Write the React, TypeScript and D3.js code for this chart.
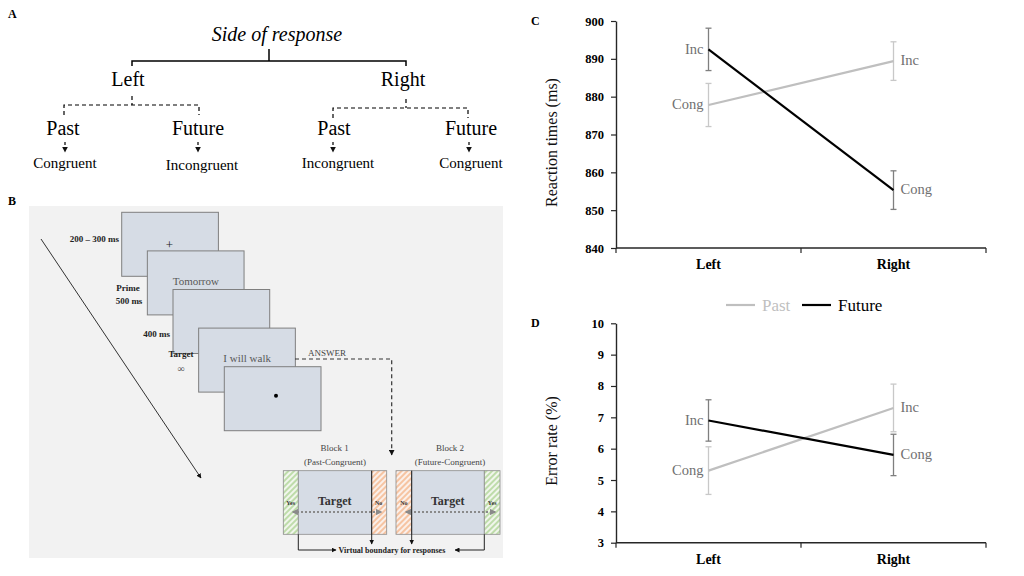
import { useRef, useEffect } from "react";
import * as d3 from "d3";

const serif = "'Liberation Serif', 'Times New Roman', serif";

// Panels C and D data
const sides = ["Left", "Right"];
const seriesNames = ["Past", "Future"];
const rtPast = [877.8, 889.4];
const rtPastErr = [5.7, 5.1];
const rtFuture = [892.5, 855.3];
const rtFutureErr = [5.6, 5.1];
const erPast = [5.3, 7.3];
const erPastErr = [0.76, 0.76];
const erFuture = [6.9, 5.8];
const erFutureErr = [0.66, 0.66];
const pastTags = ["Cong", "Inc"];
const futureTags = ["Inc", "Cong"];
const rtTicks = [840, 850, 860, 870, 880, 890, 900];
const erTicks = [3, 4, 5, 6, 7, 8, 9, 10];

// Panel B screens (sequence of trial events)
const screenTexts = ["+", "Tomorrow", "", "I will walk", "•"];

const PAST_COL = "#bfbfbf";
const FUT_COL = "#000000";

interface PanelProps {
  letter: string;
  top: number;
  bottom: number;
  ticks: number[];
  yLabel: string;
  past: number[];
  pastErr: number[];
  future: number[];
  futureErr: number[];
  legend?: boolean;
}

const LinePanel = ({ letter, top, bottom, ticks, yLabel, past, pastErr, future, futureErr, legend }: PanelProps) => {
  const ref = useRef<SVGGElement>(null);

  useEffect(() => {
    const g = d3.select(ref.current);
    g.selectAll("*").remove();

    const left = 616;
    const right = 986;
    const y = d3.scaleLinear().domain(d3.extent(ticks) as [number, number]).range([bottom, top]);
    const xb = d3.scaleBand().domain(sides).range([left, right]);
    const x = (s: string) => (xb(s) ?? 0) + xb.bandwidth() / 2;

    // panel letter
    g.append("text")
      .attr("x", 531)
      .attr("y", top + 4)
      .attr("font-family", serif)
      .attr("font-weight", "bold")
      .attr("font-size", 12)
      .text(letter);

    // y axis
    const ya = g
      .append("g")
      .attr("transform", `translate(${left},0)`)
      .call(
        d3
          .axisLeft(y)
          .tickValues(ticks)
          .tickFormat(d3.format("d"))
          .tickSize(5)
          .tickSizeOuter(0)
          .tickPadding(7)
      );
    ya.attr("font-family", serif).attr("font-size", 12.5).attr("font-weight", "bold");
    ya.select(".domain").attr("stroke", "#262626").attr("stroke-width", 1.4);
    ya.selectAll(".tick line").attr("stroke", "#262626").attr("stroke-width", 1.2);
    ya.selectAll(".tick text").attr("fill", "#000");

    // y label
    g.append("text")
      .attr("transform", `translate(557,${(top + bottom) / 2 + 8}) rotate(-90)`)
      .attr("text-anchor", "middle")
      .attr("font-family", serif)
      .attr("font-size", 16)
      .attr("fill", "#111")
      .text(yLabel);

    // x axis (ticks at category boundaries)
    g.append("line")
      .attr("x1", left)
      .attr("x2", right)
      .attr("y1", bottom)
      .attr("y2", bottom)
      .attr("stroke", "#262626")
      .attr("stroke-width", 1.4);
    const edges = [...sides.map((s) => xb(s) ?? 0), right];
    g.selectAll(".xt")
      .data(edges)
      .join("line")
      .attr("x1", (d) => d)
      .attr("x2", (d) => d)
      .attr("y1", bottom)
      .attr("y2", bottom + 5)
      .attr("stroke", "#262626")
      .attr("stroke-width", 1.2);
    g.selectAll(".xl")
      .data(sides)
      .join("text")
      .attr("x", (d) => x(d))
      .attr("y", bottom + 21)
      .attr("text-anchor", "middle")
      .attr("font-family", serif)
      .attr("font-weight", "bold")
      .attr("font-size", 14)
      .text((d) => d);

    const series = [
      { name: seriesNames[0], vals: past, errs: pastErr, tags: pastTags, color: PAST_COL, errColor: "#c8c8c8" },
      { name: seriesNames[1], vals: future, errs: futureErr, tags: futureTags, color: FUT_COL, errColor: "#7f7f7f" },
    ];

    const line = d3
      .line<number>()
      .x((_, i) => x(sides[i]))
      .y((d) => y(d));

    series.forEach((s) => {
      // error bars
      s.vals.forEach((v, i) => {
        const cx = x(sides[i]);
        const eb = g.append("g").attr("stroke", s.errColor).attr("stroke-width", 1.3);
        eb.append("line").attr("x1", cx).attr("x2", cx).attr("y1", y(v - s.errs[i])).attr("y2", y(v + s.errs[i]));
        [v - s.errs[i], v + s.errs[i]].forEach((e) => {
          eb.append("line").attr("x1", cx - 3).attr("x2", cx + 3).attr("y1", y(e)).attr("y2", y(e));
        });
      });
    });

    series.forEach((s) => {
      g.append("path")
        .datum(s.vals)
        .attr("d", line)
        .attr("fill", "none")
        .attr("stroke", s.color)
        .attr("stroke-width", 2.2);

      s.vals.forEach((v, i) => {
        g.append("text")
          .attr("x", i === 0 ? x(sides[i]) - 5 : x(sides[i]) + 7)
          .attr("y", y(v))
          .attr("dy", "0.3em")
          .attr("text-anchor", i === 0 ? "end" : "start")
          .attr("font-family", serif)
          .attr("font-size", 14.5)
          .attr("fill", "#707070")
          .text(s.tags[i]);
      });
    });

    if (legend) {
      const lg = g.append("g");
      const items = [
        { name: seriesNames[0], color: PAST_COL, x: 726 },
        { name: seriesNames[1], color: FUT_COL, x: 802 },
      ];
      items.forEach((it) => {
        lg.append("line")
          .attr("x1", it.x)
          .attr("x2", it.x + 29)
          .attr("y1", 305)
          .attr("y2", 305)
          .attr("stroke", it.color)
          .attr("stroke-width", 2.2);
        lg.append("text")
          .attr("x", it.x + 36)
          .attr("y", 310.5)
          .attr("font-family", serif)
          .attr("font-size", 17)
          .attr("fill", it.color)
          .text(it.name);
      });
    }
  }, [letter, top, bottom, ticks, yLabel, past, pastErr, future, futureErr, legend]);

  return <g ref={ref} />;
};

const PanelA = () => {
  const dash = "4,3";
  return (
    <g fontFamily={serif} fill="#000">
      <text x={8} y={18} fontWeight="bold" fontSize={12}>A</text>
      <text x={277} y={41} textAnchor="middle" fontStyle="italic" fontSize={20}>Side of response</text>
      <path d="M132,66V61H406V66M269,49V61" fill="none" stroke="#000" strokeWidth={1.5} />
      <text x={128} y={86} textAnchor="middle" fontSize={20}>Left</text>
      <text x={403} y={86} textAnchor="middle" fontSize={20}>Right</text>
      <path d="M132,96V105M64,115V105H199V115" fill="none" stroke="#000" strokeWidth={1.2} strokeDasharray={dash} />
      <path d="M406,99V108M333,118V108H468V118" fill="none" stroke="#000" strokeWidth={1.2} strokeDasharray={dash} />
      <text x={63} y={135} textAnchor="middle" fontSize={20}>Past</text>
      <text x={198} y={135} textAnchor="middle" fontSize={20}>Future</text>
      <text x={334} y={135} textAnchor="middle" fontSize={20}>Past</text>
      <text x={471} y={135} textAnchor="middle" fontSize={20}>Future</text>
      {[65, 198, 333, 469].map((ax) => (
        <line key={ax} x1={ax} x2={ax} y1={142} y2={152} stroke="#000" strokeWidth={1.2} strokeDasharray="3,2" markerEnd="url(#arrK)" />
      ))}
      <text x={65} y={168} textAnchor="middle" fontSize={15}>Congruent</text>
      <text x={202} y={170} textAnchor="middle" fontSize={15}>Incongruent</text>
      <text x={338} y={168} textAnchor="middle" fontSize={15}>Incongruent</text>
      <text x={471} y={168} textAnchor="middle" fontSize={15}>Congruent</text>
    </g>
  );
};

const PanelB = () => {
  const sw = 96.7;
  const sh = 64;
  const scr = screenTexts.map((t, i) => ({ t, x: 121.7 + i * 25.65, y: 212.3 + i * 38.6 }));
  return (
    <g fontFamily={serif}>
      <text x={8} y={205} fontWeight="bold" fontSize={12}>B</text>
      <rect x={29} y={206} width={474} height={352} fill="#f2f2f2" />
      {scr.map((s, i) => (
        <g key={i}>
          <rect x={s.x} y={s.y} width={sw} height={sh} fill="#d6dce5" stroke="#7f7f7f" strokeWidth={1} />
          {i === 0 && <text x={s.x + 47.6} y={s.y + 36.5} textAnchor="middle" fontSize={13} fill="#222">{s.t}</text>}
          {(i === 1 || i === 3) && (
            <text x={s.x + 48.5} y={s.y + 33.8} textAnchor="middle" fontSize={11} fill="#595959">{s.t}</text>
          )}
          {i === 4 && <circle cx={s.x + 51.7} cy={s.y + 29} r={2} fill="#000" />}
        </g>
      ))}
      <g fontWeight="bold" fontSize={9} fill="#222">
        <text x={119} y={242} textAnchor="end">200 – 300 ms</text>
        <text x={128} y={291} textAnchor="middle">Prime</text>
        <text x={129} y={304} textAnchor="middle">500 ms</text>
        <text x={170} y={337} textAnchor="end">400 ms</text>
        <text x={181} y={357} textAnchor="middle">Target</text>
      </g>
      <text x={181} y={372} textAnchor="middle" fontSize={10} fill="#555">∞</text>
      <line x1={41} y1={239} x2={201} y2={478} stroke="#333" strokeWidth={1} markerEnd="url(#arrK)" />
      <text x={308} y={356} fontSize={9} fill="#444">ANSWER</text>
      <path d="M295,359H391.7V455" fill="none" stroke="#333" strokeWidth={1.2} strokeDasharray="4,3" markerEnd="url(#arrK)" />
      {/* Block 1 */}
      <text x={334.7} y={451} textAnchor="middle" fontSize={9} fill="#444">Block 1</text>
      <text x={335} y={465} textAnchor="middle" fontSize={9} fill="#444">(Past-Congruent)</text>
      <rect x={283.3} y={470.7} width={15} height={63.6} fill="url(#hatchG)" stroke="#8c8c8c" strokeWidth={0.8} />
      <rect x={298.3} y={470.7} width={73.4} height={63.6} fill="#d6dce5" stroke="#8c8c8c" strokeWidth={0.8} />
      <rect x={371.7} y={470.7} width={15} height={63.6} fill="url(#hatchO)" stroke="#8c8c8c" strokeWidth={0.8} />
      {/* Block 2 */}
      <text x={450} y={451} textAnchor="middle" fontSize={9} fill="#444">Block 2</text>
      <text x={450} y={465} textAnchor="middle" fontSize={9} fill="#444">(Future-Congruent)</text>
      <rect x={396} y={470.7} width={15.7} height={63.6} fill="url(#hatchO)" stroke="#8c8c8c" strokeWidth={0.8} />
      <rect x={411.7} y={470.7} width={72.6} height={63.6} fill="#d6dce5" stroke="#8c8c8c" strokeWidth={0.8} />
      <rect x={484.3} y={470.7} width={15.7} height={63.6} fill="url(#hatchG)" stroke="#8c8c8c" strokeWidth={0.8} />
      <g fontWeight="bold" fill="#333">
        <text x={334.7} y={505} textAnchor="middle" fontSize={12}>Target</text>
        <text x={447.7} y={505} textAnchor="middle" fontSize={12}>Target</text>
        <text x={290.7} y={505} textAnchor="middle" fontSize={6}>Yes</text>
        <text x={378.7} y={505} textAnchor="middle" fontSize={6}>No</text>
        <text x={403.8} y={505} textAnchor="middle" fontSize={6}>No</text>
        <text x={492.2} y={505} textAnchor="middle" fontSize={6}>Yes</text>
      </g>
      <line x1={293} x2={381} y1={512} y2={512} stroke="#8a8a8a" strokeWidth={1.8} strokeDasharray="2,2" markerStart="url(#arrG)" markerEnd="url(#arrG)" />
      <line x1={406} x2={495} y1={512} y2={512} stroke="#8a8a8a" strokeWidth={1.8} strokeDasharray="2,2" markerStart="url(#arrG)" markerEnd="url(#arrG)" />
      <g fill="none" stroke="#222" strokeWidth={1}>
        <path d="M298.3,534.3V550H336" markerEnd="url(#arrK)" />
        <path d="M484.3,534.3V550H455" markerEnd="url(#arrK)" />
        <path d="M371.7,470.7V544" markerEnd="url(#arrK)" />
        <path d="M411.7,470.7V544" markerEnd="url(#arrK)" />
      </g>
      <text x={338.5} y={552.5} fontWeight="bold" fontSize={8} fill="#222">Virtual boundary for responses</text>
    </g>
  );
};

export default function App() {
  return (
    <svg
      width={1024}
      height={576}
      style={{ position: "absolute", left: 0, top: 0, background: "#fff" }}
    >
      <defs>
        <marker id="arrK" viewBox="0 0 10 10" refX="9" refY="5" markerWidth="5" markerHeight="5" orient="auto-start-reverse">
          <path d="M0,0L10,5L0,10z" fill="#111" />
        </marker>
        <marker id="arrG" viewBox="0 0 10 10" refX="8" refY="5" markerWidth="3.5" markerHeight="3.5" orient="auto-start-reverse">
          <path d="M0,0L10,5L0,10z" fill="#8a8a8a" />
        </marker>
        <pattern id="hatchG" patternUnits="userSpaceOnUse" width="4" height="4" patternTransform="rotate(45)">
          <rect width="4" height="4" fill="#f1f6ec" />
          <line x1="1" y1="0" x2="1" y2="4" stroke="#a9d18e" strokeWidth="1.4" />
        </pattern>
        <pattern id="hatchO" patternUnits="userSpaceOnUse" width="4" height="4" patternTransform="rotate(45)">
          <rect width="4" height="4" fill="#fbf0ea" />
          <line x1="1" y1="0" x2="1" y2="4" stroke="#f4b183" strokeWidth="1.4" />
        </pattern>
      </defs>
      <rect width={1024} height={576} fill="#fff" />
      <PanelA />
      <PanelB />
      <LinePanel
        letter="C"
        top={21}
        bottom={248}
        ticks={rtTicks}
        yLabel="Reaction times (ms)"
        past={rtPast}
        pastErr={rtPastErr}
        future={rtFuture}
        futureErr={rtFutureErr}
      />
      <LinePanel
        letter="D"
        top={323.3}
        bottom={542.7}
        ticks={erTicks}
        yLabel="Error rate (%)"
        past={erPast}
        pastErr={erPastErr}
        future={erFuture}
        futureErr={erFutureErr}
        legend
      />
    </svg>
  );
}
